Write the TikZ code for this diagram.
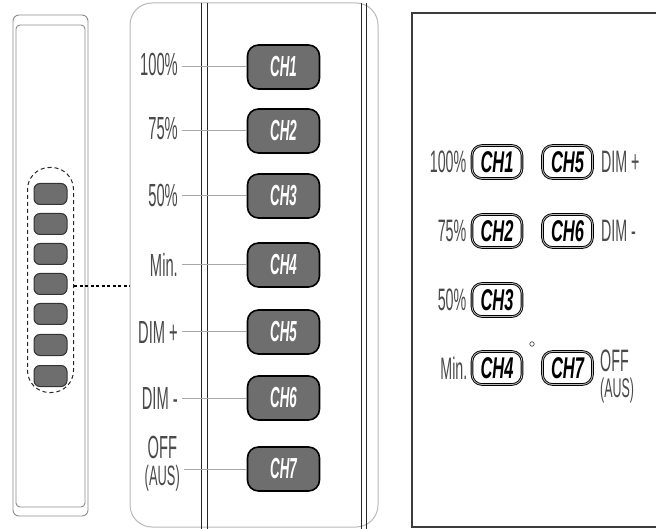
\documentclass[tikz,border=0pt]{standalone}
\usepackage{fontspec}
\setmainfont{Liberation Sans}
\newfontfamily\narrowfont[FakeStretch=0.46]{Liberation Sans}
\newfontfamily\chfont[FakeStretch=0.55]{Liberation Sans}
\usetikzlibrary{positioning}
\definecolor{btgrey}{HTML}{6E6E6E}
\definecolor{lngrey}{HTML}{A8A8A8}
\definecolor{txgrey}{HTML}{4A4A4A}
\definecolor{frgrey}{HTML}{3C3C3C}

\begin{document}
\begin{tikzpicture}[x=1pt, y=-1pt,
    btn/.style={rectangle,draw=black,line width=1.6pt,fill=btgrey,rounded corners=11pt,
               minimum width=72pt,minimum height=44pt,inner sep=0pt,text=white,
               font=\narrowfont\fontsize{29}{29}\selectfont\bfseries\itshape},
    wbtn/.style={rectangle,draw=black,line width=0.9pt,double=gray!55,double distance=0.8pt,
               fill=white,rounded corners=10pt,minimum width=50pt,minimum height=33pt,
               inner sep=0pt,font=\chfont\fontsize{30}{30}\selectfont\bfseries\itshape},
    key/.style={rectangle,draw=black!80,line width=1pt,fill=btgrey,rounded corners=6pt,
               minimum width=33pt,minimum height=21pt,inner sep=0pt},
    lbl/.style={anchor=east,inner sep=0pt,text=txgrey,align=center,
               font=\narrowfont\fontsize{32}{27}\selectfont},
    rlbl/.style={inner sep=0pt,text=txgrey,
               font=\narrowfont\fontsize{31}{26}\selectfont},
    lead/.style={lngrey,line width=1pt},
    frame/.style={draw=gray!90,line width=0.9pt}]

  \clip (0,0) rectangle (656,529);

  % ---------------- left panel: the hand set
  \draw[frame,rounded corners=6pt] (13,15) rectangle (88,516);
  \draw[frame,rounded corners=4pt] (16,25) rectangle (85,507);

  \node[key] (k1) at (50.5,194) {};
  \node[key] (k2) at (50.5,224) {};
  \node[key] (k3) at (50.5,254) {};
  \node[key] (k4) at (50.5,284) {};
  \node[key] (k5) at (50.5,314) {};
  \node[key] (k6) at (50.5,345) {};
  \node[key] (k7) at (50.5,376) {};

  \node[rectangle,draw=black!85,line width=1pt,dash pattern=on 4pt off 3pt,rounded corners=22pt,
        minimum width=46pt,minimum height=225pt,inner sep=0pt] (grp) at (50.5,280) {};
  \coordinate (tap) at (130,286);
  \draw[black,line width=1.7pt,dash pattern=on 3pt off 2.5pt] (grp.east |- tap) -- (tap);

  % ---------------- middle panel: the keys in close-up
  \draw[lngrey!80,line width=1pt,rounded corners=22pt] (130,3) rectangle (378,527);
  \draw[black!85,line width=0.9pt] (201,3) -- (201,529);
  \draw[black!85,line width=0.9pt] (207,3) -- (207,529);
  \draw[black!85,line width=0.9pt] (361,3) -- (361,529);
  \draw[black!85,line width=0.9pt] (366,3) -- (366,529);

  \node[btn] (c1) at (283.5,67) {CH1};
  \node[btn] (c2) at (283.5,131) {CH2};
  \node[btn] (c3) at (283.5,196) {CH3};
  \node[btn] (c4) at (283.5,265) {CH4};
  \node[btn] (c5) at (283.5,332) {CH5};
  \node[btn] (c6) at (283.5,398) {CH6};
  \node[btn] (c7) at (283.5,469) {CH7};

  \node[lbl] (l1) at (178,64) {100\%};
  \node[lbl] (l2) at (178,129) {75\%};
  \node[lbl] (l3) at (178,195) {50\%};
  \node[lbl] (l4) at (178,265) {Min.};
  \node[lbl] (l5) at (178,332) {DIM +};
  \node[lbl] (l6) at (178,398) {DIM -};
  \node[lbl] (l7) at (180,464) {OFF\\{\fontsize{28}{27}\selectfont(AUS)}};

  \draw[lead] (c1.west) -- ([xshift=4pt]c1.west -| l1.east);
  \draw[lead] (c2.west) -- ([xshift=4pt]c2.west -| l2.east);
  \draw[lead] (c3.west) -- ([xshift=4pt]c3.west -| l3.east);
  \draw[lead] (c4.west) -- ([xshift=4pt]c4.west -| l4.east);
  \draw[lead] (c5.west) -- ([xshift=4pt]c5.west -| l5.east);
  \draw[lead] (c6.west) -- ([xshift=4pt]c6.west -| l6.east);
  \draw[lead] (c7.west) -- ([xshift=4pt]c7.west -| l7.east);

  % ---------------- right panel: the key layout
  \draw[frgrey,line width=2.4pt] (412,13) rectangle (680,527);

  \node[wbtn] (r1) at (497,162) {CH1};
  \node[wbtn] (r2) at (497,231) {CH2};
  \node[wbtn] (r3) at (497,300) {CH3};
  \node[wbtn] (r4) at (497,368) {CH4};
  \node[wbtn] (r5) at (567.5,162) {CH5};
  \node[wbtn] (r6) at (567.5,231) {CH6};
  \node[wbtn] (r7) at (567.5,368) {CH7};

  \node[rlbl,left=5pt of r1] (t1) {100\%};
  \node[rlbl,left=5pt of r2] (t2) {75\%};
  \node[rlbl,left=5pt of r3] (t3) {50\%};
  \node[rlbl,left=4pt of r4] (t4) {Min.};
  \node[rlbl,right=8pt of r5] (t5) {DIM +};
  \node[rlbl,right=8pt of r6] (t6) {DIM -};
  \node[rlbl,anchor=north west,align=left] (t7) at (600,350)
       {OFF\\{\fontsize{27}{26}\selectfont(AUS)}};

  \node[circle,draw=txgrey,line width=0.7pt,minimum size=4.5pt,inner sep=0pt] (dot) at (532,344) {};
\end{tikzpicture}
\end{document}
